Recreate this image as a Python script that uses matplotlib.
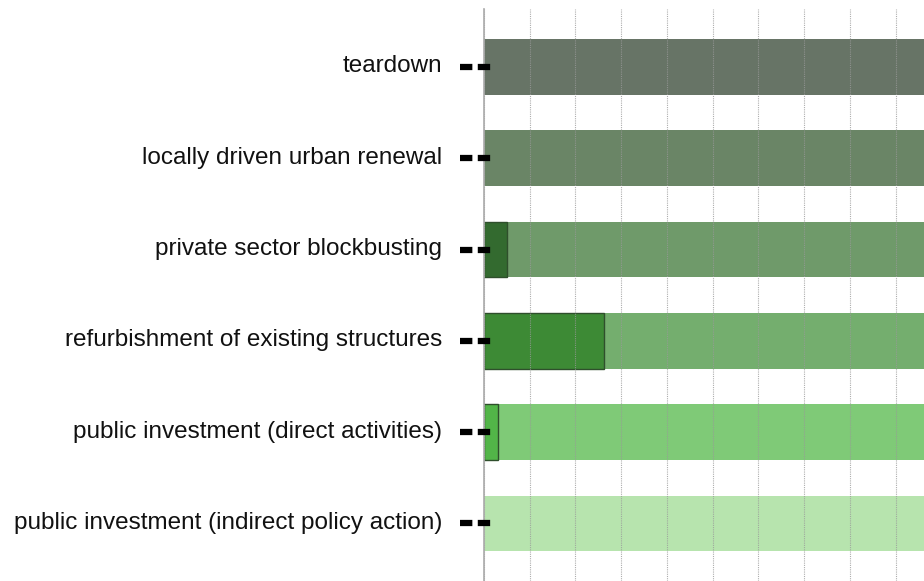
import matplotlib.pyplot as plt
from matplotlib.transforms import ScaledTranslation, blended_transform_factory

plt.rcParams["font.family"] = ["Liberation Sans", "DejaVu Sans"]

categories = [
    "teardown",
    "locally driven urban renewal",
    "private sector blockbusting",
    "refurbishment of existing structures",
    "public investment (direct activities)",
    "public investment (indirect policy action)",
]
share = [0.0, 0.0, 0.5, 2.62, 0.3, 0.0]
total = [12, 12, 12, 12, 12, 12]

bg_colors = ["#677466", "#6a8566", "#6f9a6a", "#74ae6e", "#7fca77", "#b7e4ae"]
fg_colors = ["#3a4a3a", "#3a5a38", "#336a2f", "#3d8a35", "#52b548", "#8fd486"]

fig = plt.figure(figsize=(9.24, 5.81), dpi=100)
ax = fig.add_axes([484 / 924, 0, 440 / 924, 572 / 581])

ypos = list(range(len(categories)))[::-1]
ax.barh(ypos, total, height=0.61, color=bg_colors, linewidth=0, zorder=1)
for y, v, c in zip(ypos, share, fg_colors):
    if v > 0:
        ax.barh(y, v, height=0.61, color=c, edgecolor="#2f4f2c",
                linewidth=1.0, zorder=2)

ax.set_xlim(0, 9.62)
ax.set_ylim(-0.63, 5.635)
ax.set_xticks(range(0, 10))
ax.xaxis.grid(True, color="#999999", linestyle=(0, (1, 1)), linewidth=0.8,
              alpha=0.8, zorder=3)
ax.set_axisbelow(False)
ax.tick_params(axis="x", length=0, labelbottom=False)
ax.tick_params(axis="y", length=0, pad=30, labelsize=17.5)
ax.set_yticks(ypos)
ax.set_yticklabels(categories)
lift = ScaledTranslation(0, 3 / 100, fig.dpi_scale_trans)
for lbl in ax.get_yticklabels():
    lbl.set_color("#111111")
    lbl.set_transform(lbl.get_transform() + lift)

for side in ["top", "right", "bottom"]:
    ax.spines[side].set_visible(False)
ax.spines["left"].set_color("#aaaaaa")
ax.spines["left"].set_linewidth(1.2)
ax.spines["left"].set_zorder(4)

# thick dashed tick marks next to each category
trans = blended_transform_factory(ax.transAxes, ax.transData)
lw = 4.5
for y in ypos:
    ax.plot([-24 / 440, 7 / 440], [y, y], transform=trans, color="black",
            linewidth=lw, linestyle=(0, (8.9 / lw, 3.9 / lw)),
            solid_capstyle="butt", clip_on=False, zorder=5)

fig.savefig("out.png", dpi=100)
